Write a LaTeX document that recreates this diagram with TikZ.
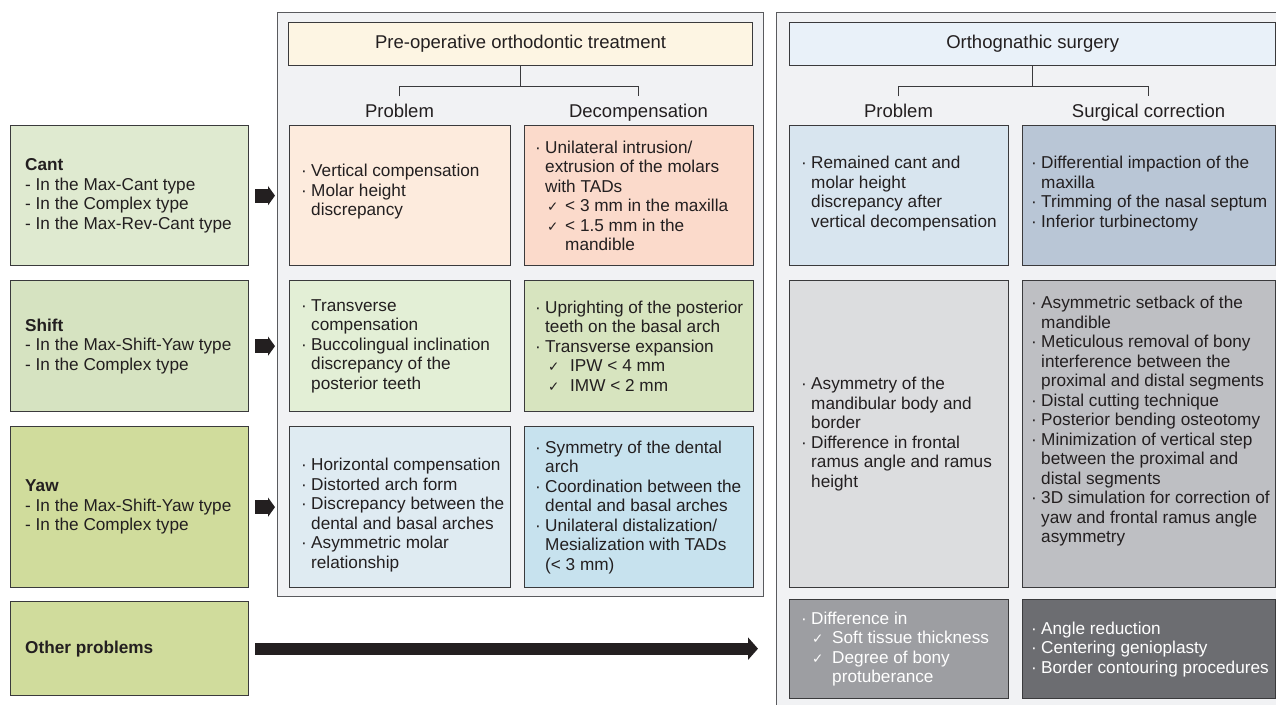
\documentclass[tikz,border=0pt]{standalone}
\usepackage{fontspec}
\setmainfont{Liberation Sans}
\newfontfamily\dejavu{DejaVu Sans}
\usetikzlibrary{arrows.meta}

\definecolor{txt}{HTML}{231F20}
\definecolor{panelbg}{HTML}{F1F2F4}
\definecolor{panelline}{HTML}{5A5B5E}
\definecolor{boxline}{HTML}{3A3A3C}
\definecolor{leftA}{HTML}{DFEAD0}
\definecolor{leftB}{HTML}{D6E3C1}
\definecolor{leftC}{HTML}{D0DC9C}
\definecolor{prehc}{HTML}{FDF5E3}
\definecolor{orhc}{HTML}{E9F1F9}
\definecolor{pone}{HTML}{FDEBDD}
\definecolor{done}{HTML}{FBDACB}
\definecolor{ptwo}{HTML}{E3EFD6}
\definecolor{dtwo}{HTML}{D7E4BF}
\definecolor{pthree}{HTML}{DFEBF2}
\definecolor{dthree}{HTML}{C7E2EE}
\definecolor{rpone}{HTML}{D8E5EF}
\definecolor{rsone}{HTML}{B9C6D6}
\definecolor{rptwo}{HTML}{DCDDDF}
\definecolor{rstwo}{HTML}{BEBFC3}
\definecolor{rpfour}{HTML}{9D9EA2}
\definecolor{rsfour}{HTML}{6C6D71}

\newcommand{\bu}{\makebox[10pt][l]{·}}
\newcommand{\ind}{\hspace*{10pt}}
\newcommand{\ck}{{\dejavu\fontsize{13.5}{13.5}\selectfont ✓}}
\newcommand{\mkbox}[7][]{\node[bx, fill=#7, minimum width={(#4-#2)*1pt}, minimum height={(#5-#3)*1pt}, #1] (#6) at (#2,#3) {};}

\begin{document}
\begin{tikzpicture}[x=1pt,y=-1pt,
  bx/.style={draw=boxline, line width=1.3pt, inner sep=0pt, anchor=north west},
  panel/.style={draw=panelline, line width=1.1pt, fill=panelbg, inner sep=0pt, anchor=north west},
  txtnode/.style={anchor=west, align=left, inner sep=0pt, text=txt, font=\fontsize{17.2}{19.5}\selectfont},
  hdrfont/.style={text=txt, font=\fontsize{18.5}{20}\selectfont},
  lab/.style={hdrfont, inner sep=0pt, anchor=base},
  tree/.style={draw=boxline, line width=1pt},
  smallarrow/.style={draw=txt, line width=14pt, -{Triangle[length=7pt,width=19pt]}},
  bigarrow/.style={draw=txt, line width=12pt, -{Triangle[length=10pt,width=22pt]}},
]
\useasboundingbox (0,0) rectangle (1276,704);
\fill[white] (0,0) rectangle (1276,704);

% panels
\node[panel, minimum width=486pt, minimum height=584pt] (mpanel) at (277,12) {};
\node[panel, minimum width=520pt, minimum height=710pt] (rpanel) at (776,12) {};

% left column
\mkbox{10}{125}{248}{265}{cant}{leftA}
\mkbox{10}{280}{248}{411}{shift}{leftB}
\mkbox{10}{426}{248}{587}{yaw}{leftC}
\mkbox{10}{601}{248}{695}{other}{leftC}

\node[txtnode, xshift=15pt] (canttxt) at (cant.west) {\textbf{Cant}\\- In the Max-Cant type\\- In the Complex type\\- In the Max-Rev-Cant type};
\node[txtnode, xshift=15pt] (shifttxt) at (shift.west) {\textbf{Shift}\\- In the Max-Shift-Yaw type\\- In the Complex type};
\node[txtnode, xshift=15pt] (yawtxt) at (yaw.west) {\textbf{Yaw}\\- In the Max-Shift-Yaw type\\- In the Complex type};
\node[txtnode, xshift=15pt] (othertxt) at (other.west) {\textbf{Other problems}};

% headers
\mkbox[hdrfont]{288}{22}{752}{65}{preh}{prehc}
\node[hdrfont] at (preh.center) {Pre-operative orthodontic treatment};
\mkbox[hdrfont]{789}{22}{1275}{65}{orh}{orhc}
\node[hdrfont] at (orh.center) {Orthognathic surgery};

% middle boxes
\mkbox{289}{125}{510}{265}{mpone}{pone}
\mkbox{524}{125}{753}{265}{mdone}{done}
\mkbox{289}{280}{510}{411}{mptwo}{ptwo}
\mkbox{524}{280}{753}{411}{mdtwo}{dtwo}
\mkbox{289}{426}{510}{587}{mpthree}{pthree}
\mkbox{524}{426}{753}{587}{mdthree}{dthree}

% right boxes
\mkbox{789}{125}{1008}{265}{rpa}{rpone}
\mkbox{1022}{125}{1275}{265}{rsa}{rsone}
\mkbox{789}{280}{1008}{587}{rpb}{rptwo}
\mkbox{1022}{280}{1275}{587}{rsb}{rstwo}
\mkbox{789}{599}{1008}{698}{rpc}{rpfour}
\mkbox{1022}{599}{1275}{698}{rsc}{rsfour}

% labels
\node[lab] (plab) at (399.5,117) {Problem};
\node[lab] (dlab) at (638.5,117) {Decompensation};
\node[lab] (rplab) at (898.5,117) {Problem};
\node[lab] (rslab) at (1148.5,117) {Surgical correction};

% trees
\draw[tree] (preh.south) -- ++(0,20) coordinate (jm);
\draw[tree] ([yshift=7pt]plab.north) |- (jm) -| ([yshift=7pt]dlab.north);
\draw[tree] (orh.south) -- ++(0,20) coordinate (jr);
\draw[tree] ([yshift=7pt]rplab.north) |- (jr) -| ([yshift=7pt]rslab.north);

% middle texts
\node[txtnode, xshift=12pt, yshift=4pt] at (mpone.west) {\bu Vertical compensation\\\bu Molar height\\\ind discrepancy};
\node[txtnode, xshift=11pt] at (mdone.west) {\bu Unilateral intrusion/\\\ind extrusion of the molars\\\ind with TADs\\\ind\hspace*{2pt}\makebox[18pt][l]{\ck}< 3 mm in the maxilla\\\ind\hspace*{2pt}\makebox[18pt][l]{\ck}< 1.5 mm in the\\\ind\hspace*{20pt}mandible};
\node[txtnode, xshift=12pt] at (mptwo.west) {\bu Transverse\\\ind compensation\\\bu Buccolingual inclination\\\ind discrepancy of the\\\ind posterior teeth};
\node[txtnode, xshift=11pt] at (mdtwo.west) {\bu Uprighting of the posterior\\\ind teeth on the basal arch\\\bu Transverse expansion\\\ind\hspace*{3pt}\makebox[22pt][l]{\ck}IPW < 4 mm\\\ind\hspace*{3pt}\makebox[22pt][l]{\ck}IMW < 2 mm};
\node[txtnode, xshift=12pt, yshift=-8pt] at (mpthree.west) {\bu Horizontal compensation\\\bu Distorted arch form\\\bu Discrepancy between the\\\ind dental and basal arches\\\bu Asymmetric molar\\\ind relationship};
\node[txtnode, xshift=11pt] at (mdthree.west) {\bu Symmetry of the dental\\\ind arch\\\bu Coordination between the\\\ind dental and basal arches\\\bu Unilateral distalization/\\\ind Mesialization with TADs\\\ind (< 3 mm)};

% right texts
\node[txtnode, xshift=12pt, yshift=2pt] at (rpa.west) {\bu Remained cant and\\\ind molar height\\\ind discrepancy after\\\ind vertical decompensation};
\node[txtnode, xshift=9pt, yshift=2pt] at (rsa.west) {\bu Differential impaction of the\\\ind maxilla\\\bu Trimming of the nasal septum\\\bu Inferior turbinectomy};
\node[txtnode, xshift=12pt] at (rpb.west) {\bu Asymmetry of the\\\ind mandibular body and\\\ind border\\\bu Difference in frontal\\\ind ramus angle and ramus\\\ind height};
\node[txtnode, xshift=9pt, yshift=13pt] at (rsb.west) {\bu Asymmetric setback of the\\\ind mandible\\\bu Meticulous removal of bony\\\ind interference between the\\\ind proximal and distal segments\\\bu Distal cutting technique\\\bu Posterior bending osteotomy\\\bu Minimization of vertical step\\\ind between the proximal and\\\ind distal segments\\\bu 3D simulation for correction of\\\ind yaw and frontal ramus angle\\\ind asymmetry};
\node[txtnode, text=white, xshift=12pt] at (rpc.west) {\bu Difference in\\\ind\hspace*{1pt}\makebox[20pt][l]{\ck}Soft tissue thickness\\\ind\hspace*{1pt}\makebox[20pt][l]{\ck}Degree of bony\\\ind\hspace*{21pt}protuberance};
\node[txtnode, text=white, xshift=9pt] at (rsc.west) {\bu Angle reduction\\\bu Centering genioplasty\\\bu Border contouring procedures};

% arrows
\draw[smallarrow] ([xshift=6pt]cant.east) -- ([xshift=-2pt]cant.east -| mpanel.west);
\draw[smallarrow] ([xshift=6pt]shift.east) -- ([xshift=-2pt]shift.east -| mpanel.west);
\draw[smallarrow] ([xshift=6pt]yaw.east) -- ([xshift=-2pt]yaw.east -| mpanel.west);
\draw[bigarrow] ([xshift=6pt]other.east) -- ([xshift=-18pt]other.east -| rpanel.west);
\end{tikzpicture}
\end{document}
